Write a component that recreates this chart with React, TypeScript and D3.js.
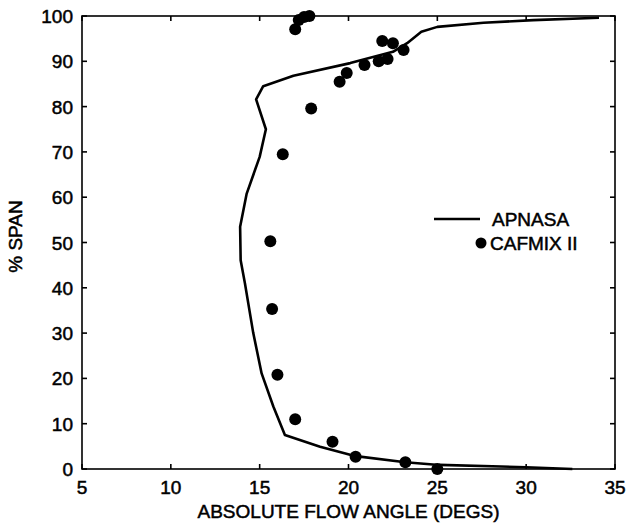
import React from "react";
import * as d3 from "d3";

const apnasaAngle = [34.1, 30.4, 27.6, 25.0, 24.1, 23.3, 22.5, 20.1, 16.9, 15.2, 14.8, 15.35, 15.0, 14.27, 13.9, 13.93, 14.17, 14.64, 15.11, 15.77, 16.42, 18.4, 20.3, 23.2, 25.1, 30.0, 32.6];
const apnasaSpan = [99.6, 99.1, 98.5, 97.6, 96.5, 94.0, 92.1, 89.6, 86.8, 84.5, 81.6, 75.0, 68.9, 60.8, 53.5, 46.1, 41.0, 30.0, 21.1, 13.8, 7.5, 4.9, 2.9, 1.5, 0.9, 0.4, 0.0];

const cafmixAngle = [17.0, 17.2, 17.5, 17.8, 21.9, 22.5, 23.1, 22.2, 21.7, 20.9, 19.9, 19.5, 17.9, 16.3, 15.6, 15.7, 16.0, 17.0, 19.1, 20.4, 23.2, 25.0];
const cafmixSpan = [97.1, 99.1, 99.8, 100, 94.5, 94.0, 92.5, 90.5, 90.0, 89.2, 87.4, 85.5, 79.6, 69.5, 50.3, 35.3, 20.8, 11.0, 6.0, 2.7, 1.5, 0.0];

const xTicks = [5, 10, 15, 20, 25, 30, 35];
const yTicks = [0, 10, 20, 30, 40, 50, 60, 70, 80, 90, 100];

export default function App() {
  const W = 628, H = 525;
  const x = d3.scaleLinear().domain([5, 35]).range([82, 615]);
  const y = d3.scaleLinear().domain([0, 100]).range([469, 16]);
  const line = d3.line<number>().x((_, i) => x(apnasaAngle[i])).y((_, i) => y(apnasaSpan[i]));
  const font = "'Liberation Sans', Arial, Helvetica, sans-serif";
  const tl = 5;
  const fs = 19;
  return (
    <svg width={W} height={H} style={{ position: "absolute", left: 0, top: 0, background: "#fff" }}>
      <g stroke="#000" strokeWidth={1.6} fill="none">
        <rect x={x(5)} y={y(100)} width={x(35) - x(5)} height={y(0) - y(100)} />
        {xTicks.map((t) => (
          <g key={"xt" + t}>
            <line x1={x(t)} x2={x(t)} y1={y(0)} y2={y(0) - tl} />
            <line x1={x(t)} x2={x(t)} y1={y(100)} y2={y(100) + tl} />
          </g>
        ))}
        {yTicks.map((t) => (
          <g key={"yt" + t}>
            <line x1={x(5)} x2={x(5) + tl} y1={y(t)} y2={y(t)} />
            <line x1={x(35)} x2={x(35) - tl} y1={y(t)} y2={y(t)} />
          </g>
        ))}
      </g>
      <g fontFamily={font} fontSize={fs} fill="#000" stroke="#000" strokeWidth={0.5}>
        {xTicks.map((t) => (
          <text key={"xl" + t} x={x(t)} y={y(0) + 25} textAnchor="middle">{t}</text>
        ))}
        {yTicks.map((t) => (
          <text key={"yl" + t} x={x(5) - 9} y={y(t) + 7} textAnchor="end">{t}</text>
        ))}
        <text x={x(20)} y={518} textAnchor="middle">ABSOLUTE FLOW ANGLE (DEGS)</text>
        <text transform={`translate(22,${y(50) - 6}) rotate(-90)`} textAnchor="middle">% SPAN</text>
      </g>
      <path d={line(apnasaAngle) || ""} fill="none" stroke="#000" strokeWidth={2.6} strokeLinejoin="round" />
      <g fill="#000">
        {cafmixAngle.map((a, i) => (
          <circle key={"c" + i} cx={x(a)} cy={y(cafmixSpan[i])} r={6} />
        ))}
      </g>
      <g fontFamily={font} fontSize={fs} fill="#000" stroke="#000" strokeWidth={0.5}>
        <line x1={434} x2={480} y1={219} y2={219} stroke="#000" strokeWidth={2.6} />
        <text x={492} y={226}>APNASA</text>
        <circle cx={481} cy={243} r={5.5} stroke="none" />
        <text x={490} y={250}>CAFMIX II</text>
      </g>
    </svg>
  );
}
